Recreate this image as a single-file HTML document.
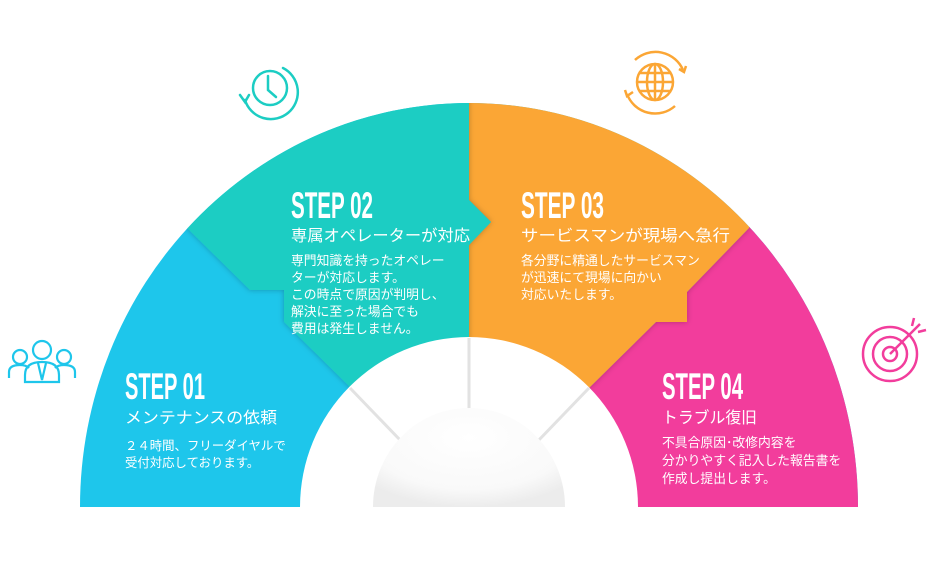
<!DOCTYPE html>
<html><head><meta charset="utf-8"><style>
html,body{margin:0;padding:0;background:#fff;width:933px;height:573px;overflow:hidden}
svg{display:block}
.st{font-family:"Liberation Sans Narrow","Liberation Sans",sans-serif;font-size:37px;font-weight:bold;fill:#fff}
.h{font-family:"Liberation Sans","Noto Sans CJK JP",sans-serif;font-size:16px;fill:#fff}
.b{font-family:"Liberation Sans","Noto Sans CJK JP",sans-serif;font-size:12.8px;fill:#fff}
.b1{font-size:12.4px}
</style></head><body>
<svg width="933" height="573" viewBox="0 0 933 573" xmlns="http://www.w3.org/2000/svg">
<defs>
<clipPath id="outer"><path d="M80,507 A389,404 0 0 1 858,507 Z"/></clipPath>
<radialGradient id="g" cx="0.5" cy="0.3" r="0.7"><stop offset="0" stop-color="#fff"/><stop offset="0.75" stop-color="#f9f9f9"/><stop offset="1" stop-color="#ececec"/></radialGradient>
<filter id="sh" x="-20%" y="-20%" width="140%" height="140%"><feDropShadow dx="0" dy="0" stdDeviation="3" flood-color="#000" flood-opacity="0.25"/></filter>
</defs>
<g clip-path="url(#outer)">
<rect x="0" y="0" width="933" height="573" fill="#1ec6eb"/>
<polygon points="749,228 687,292 687,322 656,322 589,388 600,520 933,520 933,0 749,0" fill="#f23d9c"/>
<g filter="url(#sh)"><polygon points="469,0 749,0 749,228 687,292 687,322 656,322 589,388 469,390 469,245 491,222 469,200" fill="#fba635"/></g>
<g filter="url(#sh)"><polygon points="187,228 250,290 284,290 284,322 350,387 469,390 469,245 491,222 469,200 469,0 187,0" fill="#1ccdc3"/></g>
</g>
<path d="M300,507 A169,170 0 0 1 638,507 Z" fill="#fff"/>
<g stroke="#e2e2e2" stroke-width="3">
<line x1="469" y1="338" x2="469" y2="410"/>
<line x1="350" y1="388" x2="402" y2="442"/>
<line x1="589" y1="388" x2="537" y2="442"/>
</g>
<path d="M373,507 A96,99 0 0 1 565,507 Z" fill="url(#g)"/>

<text class="st" x="125" y="399" textLength="80" lengthAdjust="spacingAndGlyphs">STEP 01</text>
<text class="h" x="125" y="423" textLength="152" lengthAdjust="spacingAndGlyphs">メンテナンスの依頼</text>
<text class="b b1" x="125" y="450">２４時間、フリーダイヤルで</text>
<text class="b b1" x="125" y="467">受付対応しております。</text>

<text class="st" x="291" y="218" textLength="82" lengthAdjust="spacingAndGlyphs">STEP 02</text>
<text class="h" x="291" y="241" textLength="179" lengthAdjust="spacingAndGlyphs">専属オペレーターが対応</text>
<text class="b" x="291" y="265">専門知識を持ったオペレー</text>
<text class="b" x="291" y="282">ターが対応します。</text>
<text class="b" x="291" y="299">この時点で原因が判明し、</text>
<text class="b" x="291" y="316">解決に至った場合でも</text>
<text class="b" x="291" y="333">費用は発生しません。</text>

<text class="st" x="521" y="218" textLength="83" lengthAdjust="spacingAndGlyphs">STEP 03</text>
<text class="h" x="521" y="241" textLength="209" lengthAdjust="spacingAndGlyphs">サービスマンが現場へ急行</text>
<text class="b" x="521" y="265">各分野に精通したサービスマン</text>
<text class="b" x="521" y="282">が迅速にて現場に向かい</text>
<text class="b" x="521" y="299">対応いたします。</text>

<text class="st" x="662" y="399" textLength="81" lengthAdjust="spacingAndGlyphs">STEP 04</text>
<text class="h" x="662" y="423" textLength="95" lengthAdjust="spacingAndGlyphs">トラブル復旧</text>
<text class="b" x="662" y="447">不具合原因･改修内容を</text>
<text class="b" x="662" y="465">分かりやすく記入した報告書を</text>
<text class="b" x="662" y="483">作成し提出します。</text>

<g fill="none" stroke="#1ccdc3" stroke-width="2.5" stroke-linecap="round">
<circle cx="270" cy="88" r="17"/>
<path d="M268,76 V90 L276,97"/>
<path d="M283,68 A27,27 0 1 1 245,100"/>
<path d="M240,95 L245,102 L249,95"/>
</g>
<g fill="none" stroke="#fba635" stroke-width="2.5">
<circle cx="655" cy="82" r="18"/>
<ellipse cx="655" cy="82" rx="8" ry="18"/>
<line x1="655" y1="64" x2="655" y2="100"/>
<line x1="637" y1="82" x2="673" y2="82"/>
<line x1="640" y1="73" x2="670" y2="73"/>
<line x1="640" y1="91" x2="670" y2="91"/>
<path d="M635,60 A30,30 0 0 1 683,70"/>
<path d="M627,94 A30,30 0 0 0 675,106"/>
<path d="M625,90 L627,96 L633,92"/>
<path d="M686,66 L684,72 L679,69"/>
</g>
<g fill="none" stroke="#1ec6eb" stroke-width="2.2">
<circle cx="42" cy="350" r="9"/>
<circle cx="20" cy="357" r="7"/>
<circle cx="64" cy="357" r="7"/>
<path d="M25,382 V375 Q25,362 42,362 Q59,362 59,375 V382 Z"/>
<path d="M9,378 V372 Q9,365 20,365 Q26,365 29,368"/>
<path d="M75,378 V372 Q75,365 64,365 Q58,365 55,368"/>
<path d="M38,363 L42,380 L46,363"/>
</g>
<g fill="none" stroke="#f23d9c" stroke-width="2.5">
<circle cx="890" cy="354" r="27"/>
<circle cx="890" cy="354" r="17"/>
<circle cx="890" cy="354" r="7"/>
<line x1="890" y1="354" x2="920" y2="324"/>
<path d="M912,326 L914,318 M918,332 L926,330"/>
</g>
</svg>
</body></html>
